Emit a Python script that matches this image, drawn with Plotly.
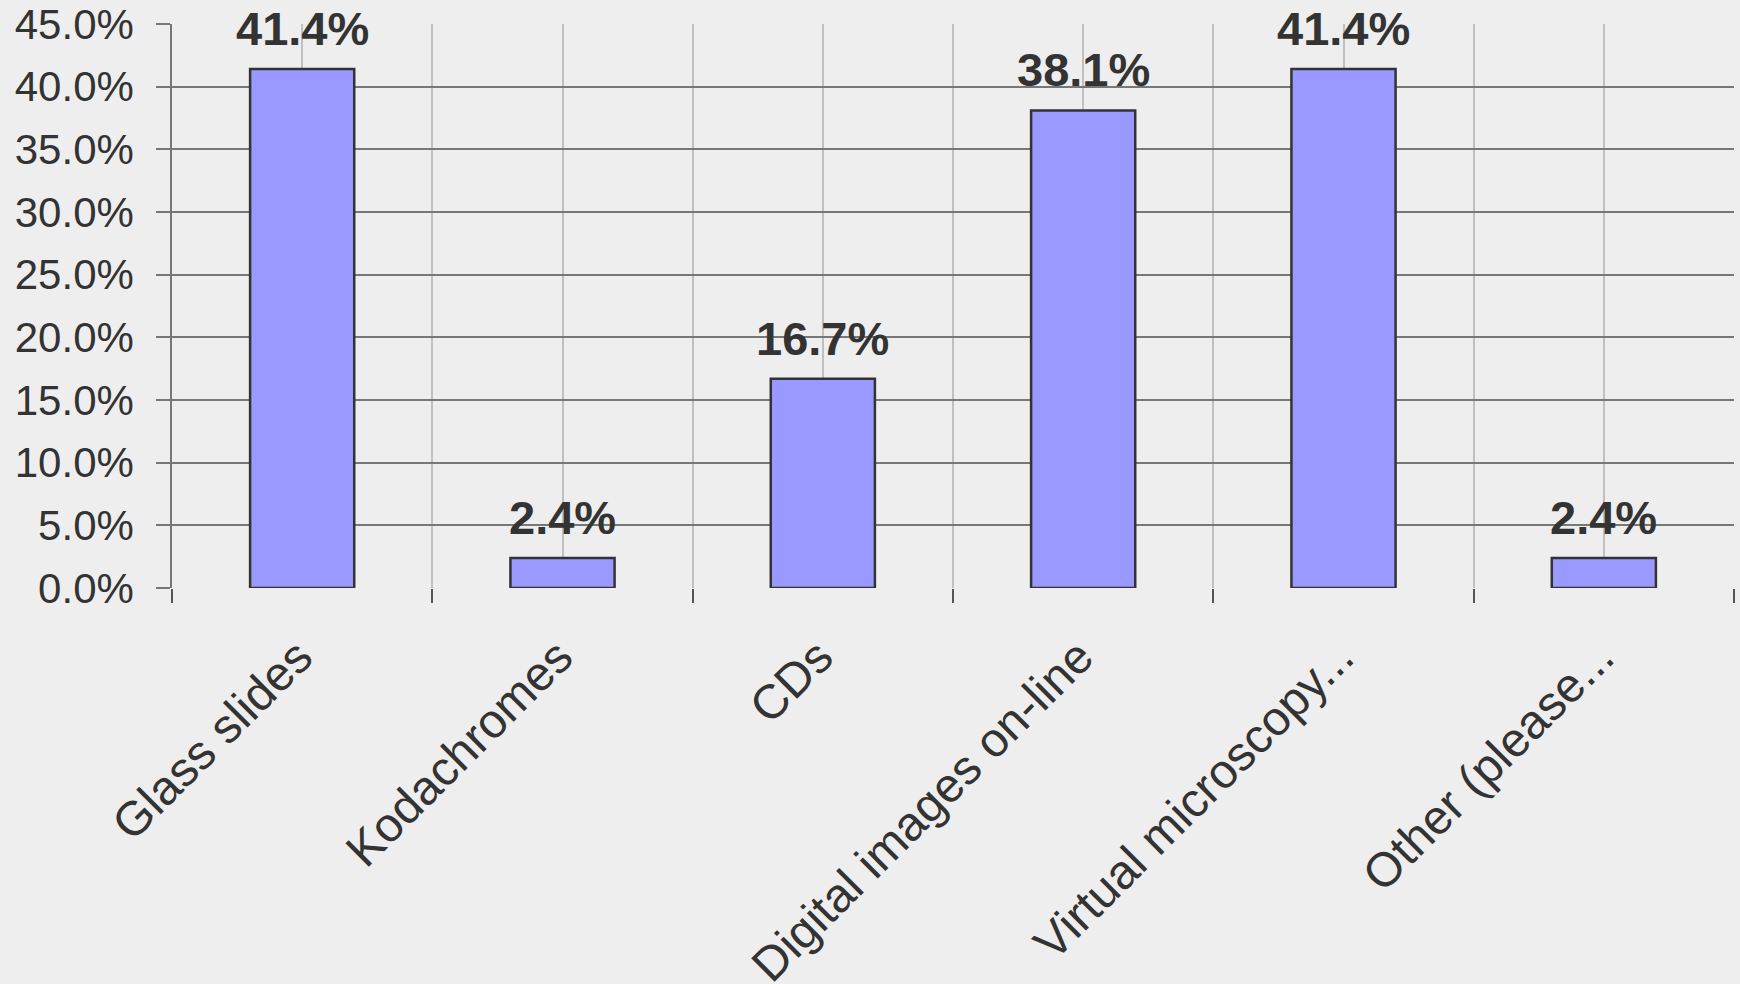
import plotly.graph_objects as go

categories = ["Glass slides", "Kodachromes", "CDs", "Digital images on-line",
              "Virtual microscopy...", "Other (please..."]
values = [41.4, 2.4, 16.7, 38.1, 41.4, 2.4]
value_labels = ["41.4%", "2.4%", "16.7%", "38.1%", "41.4%", "2.4%"]
y_ticks = [0, 5, 10, 15, 20, 25, 30, 35, 40, 45]
y_tick_labels = ["0.0%", "5.0%", "10.0%", "15.0%", "20.0%", "25.0%",
                 "30.0%", "35.0%", "40.0%", "45.0%"]

x_pos = list(range(len(categories)))
boundaries = [i - 0.5 for i in range(len(categories) + 1)]

FONT = "Liberation Sans, Arial, sans-serif"
TXT = "#333333"

fig = go.Figure()
fig.add_trace(go.Bar(
    x=x_pos, y=values, width=0.4,
    marker=dict(color="#9999ff", line=dict(color="#333333", width=2.5)),
    hoverinfo="skip",
))

for xi, v, lab in zip(x_pos, values, value_labels):
    fig.add_annotation(x=xi, y=v, text="<b>%s</b>" % lab, showarrow=False,
                       yanchor="bottom", yshift=12,
                       font=dict(family=FONT, size=47, color=TXT))

fig.update_layout(
    width=1740, height=984,
    margin=dict(l=172, r=6, t=24, b=396),
    paper_bgcolor="#eeeeee", plot_bgcolor="#eeeeee",
    showlegend=False,
    font=dict(family=FONT, color=TXT),
)

fig.update_xaxes(
    automargin=False,
    range=[-0.5, len(categories) - 0.5],
    tickmode="array", tickvals=x_pos, ticktext=categories,
    tickangle=-45, ticks="", showgrid=True, gridcolor="#c0c0c0", gridwidth=1.5,
    tickfont=dict(family=FONT, size=48, color=TXT),
    zeroline=False, showline=False,
    minor=dict(tickmode="array", tickvals=boundaries, ticks="outside",
               ticklen=14, tickcolor="#555555", tickwidth=1.5,
               showgrid=True, gridcolor="#c0c0c0", gridwidth=1.5),
    ticklabelstandoff=30, ticklabelshift=-4,
)
fig.update_yaxes(
    automargin=False,
    range=[0, 45], tickmode="array", tickvals=y_ticks, ticktext=y_tick_labels,
    showgrid=True, gridcolor="#777777", gridwidth=1.5,
    ticks="outside", ticklen=14, tickcolor="#777777", tickwidth=1.5,
    tickfont=dict(family=FONT, size=42, color=TXT),
    showline=True, linecolor="#777777", linewidth=1.5,
    zeroline=False, ticklabelstandoff=14,
)

fig.write_html("out.html", config={"displayModeBar": False},
               post_script="document.body.style.margin='0';document.body.style.background='#eeeeee';")
